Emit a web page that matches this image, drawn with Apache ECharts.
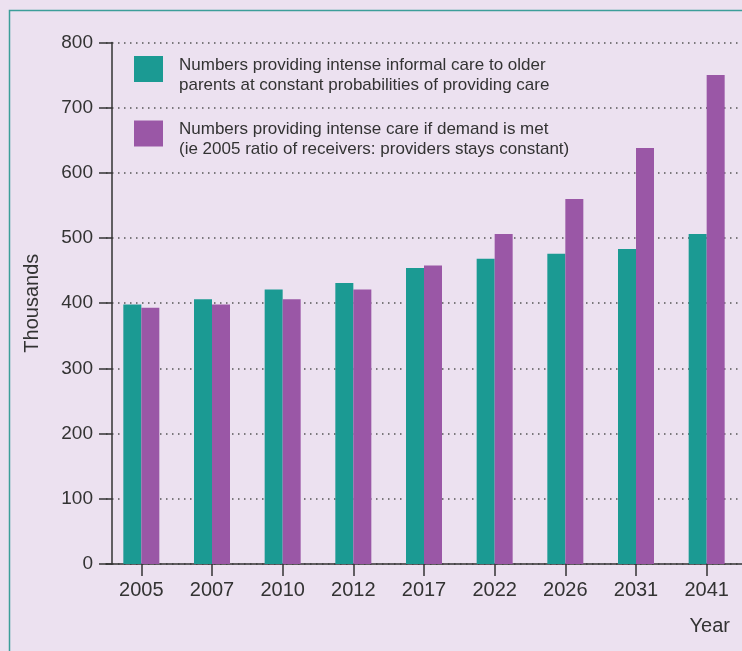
<!DOCTYPE html>
<html>
<head>
<meta charset="utf-8">
<script src="https://cdn.jsdelivr.net/npm/echarts@6/dist/echarts.min.js"></script>
<style>
  html, body { margin: 0; padding: 0; background: #ece1f0; }
  #chart { width: 742px; height: 651px; }
</style>
</head>
<body>
<div id="chart"></div>
<script>
// Projected numbers of intense carers (thousands)
const years = ['2005', '2007', '2010', '2012', '2017', '2022', '2026', '2031', '2041'];
const constantProbability = [398, 406, 421, 431, 454, 468, 476, 483, 506];
const demandMet = [393, 398, 406, 421, 458, 506, 560, 638, 750];
const yTicks = [0, 100, 200, 300, 400, 500, 600, 700, 800];

const seriesNames = [
  'Numbers providing intense informal care to older\nparents at constant probabilities of providing care',
  'Numbers providing intense care if demand is met\n(ie 2005 ratio of receivers: providers stays constant)'
];

const TEAL = '#1b9a93';
const PURPLE = '#9a57a6';
const INK = '#333333';
const FONT = '"Liberation Sans", Arial, Helvetica, sans-serif';

const chart = echarts.init(document.getElementById('chart'), null, { renderer: 'canvas' });

chart.setOption({
  backgroundColor: '#ece1f0',
  animation: false,
  textStyle: { fontFamily: FONT, color: INK },
  graphic: [{
    // teal panel frame running off the right and bottom edges
    type: 'rect',
    left: 7, top: 8,
    shape: { x: 0, y: 0, width: 800, height: 700 },
    style: { fill: 'none', stroke: '#3c9e9a', lineWidth: 1.5 },
    silent: true,
    z: -1
  }],
  legend: {
    orient: 'vertical',
    left: 129,
    top: 43,
    itemWidth: 29,
    itemHeight: 26,
    itemGap: 19,
    icon: 'rect',
    selectedMode: false,
    // a short spacer line above each entry sits the swatch level with the first text line
    formatter: function (name) {
      return '{gap| }\n' + name.split('\n').map(function (line) {
        return '{t|' + line + '}';
      }).join('\n');
    },
    textStyle: {
      fontFamily: FONT,
      fontSize: 17,
      color: INK,
      padding: [0, 0, 0, 11],
      rich: {
        gap: { fontSize: 2, lineHeight: 12 },
        t: { fontFamily: FONT, fontSize: 17, color: INK, lineHeight: 20 }
      }
    },
    data: seriesNames
  },
  grid: {
    left: 106,
    top: 42.4,
    width: 639,
    height: 521.6
  },
  xAxis: {
    type: 'category',
    data: years,
    name: 'Year',
    nameLocation: 'end',
    nameGap: -12,
    nameTextStyle: {
      fontFamily: FONT, fontSize: 20, color: INK,
      align: 'right', verticalAlign: 'top', padding: [52, 0, 0, 0]
    },
    axisLine: { show: true, lineStyle: { color: INK, width: 1.5 } },
    axisTick: { show: true, alignWithLabel: true, length: 12, lineStyle: { color: INK, width: 1.5 } },
    axisLabel: { fontFamily: FONT, fontSize: 20, color: INK, margin: 16 },
    splitLine: { show: false }
  },
  yAxis: {
    type: 'value',
    min: yTicks[0],
    max: yTicks[yTicks.length - 1],
    interval: yTicks[1] - yTicks[0],
    offset: -6,
    name: 'Thousands',
    nameLocation: 'middle',
    nameGap: 70,
    nameTextStyle: { fontFamily: FONT, fontSize: 20, color: INK },
    axisLine: { show: true, lineStyle: { color: INK, width: 1.5 } },
    axisTick: { show: true, length: 13, lineStyle: { color: INK, width: 1.5 } },
    axisLabel: { fontFamily: FONT, fontSize: 19, color: INK, margin: 19 },
    splitLine: {
      show: true,
      lineStyle: { color: '#555555', width: 1.5, type: [1.5, 4.5] }
    }
  },
  series: [
    {
      name: seriesNames[0],
      type: 'bar',
      data: constantProbability,
      barWidth: 18,
      barGap: '0%',
      itemStyle: { color: TEAL }
    },
    {
      name: seriesNames[1],
      type: 'bar',
      data: demandMet,
      barWidth: 18,
      barGap: '0%',
      itemStyle: { color: PURPLE }
    }
  ]
});
</script>
</body>
</html>
